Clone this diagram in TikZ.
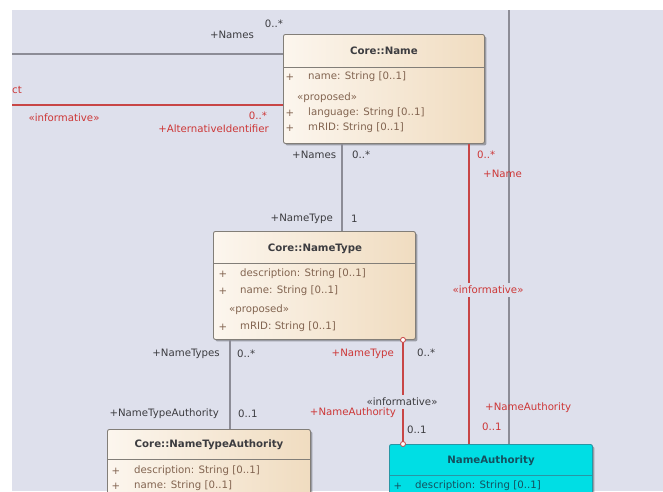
\documentclass[tikz,border=0pt]{standalone}
\usepackage{fontspec}
\setmainfont{DejaVu Sans}
\usetikzlibrary{shadows}
\definecolor{bgc}{RGB}{222,224,236}
\definecolor{lgray}{RGB}{140,140,150}
\definecolor{lred}{RGB}{200,70,70}
\definecolor{tred}{RGB}{205,55,55}
\definecolor{tgray}{RGB}{60,60,64}
\definecolor{boxL}{RGB}{252,246,238}
\definecolor{boxR}{RGB}{240,220,192}
\definecolor{boxB}{RGB}{130,126,120}
\definecolor{attrc}{RGB}{130,100,80}
\definecolor{cyanf}{RGB}{0,222,228}
\definecolor{cyanb}{RGB}{40,150,165}
\definecolor{cyant}{RGB}{20,80,95}
\begin{document}
\begin{tikzpicture}[x=1pt,y=-1pt,
  every node/.style={font=\fontsize{10.2}{12}\selectfont, inner sep=0pt},
  classbox/.style={draw=boxB, line width=0.9pt, rounded corners=2pt, left color=boxL, right color=boxR, anchor=north west,
    drop shadow={shadow xshift=2pt, shadow yshift=-2pt, opacity=0.3, fill=black}},
  cyanbox/.style={draw=cyanb, line width=0.9pt, rounded corners=2pt, fill=cyanf, anchor=north west,
    drop shadow={shadow xshift=2pt, shadow yshift=-2pt, opacity=0.3, fill=black}},
  divider/.style={draw=boxB, line width=0.8pt},
  cdivider/.style={draw=cyanb, line width=0.8pt},
  titlet/.style={font=\fontsize{10.2}{12}\selectfont\bfseries, text=tgray},
  plus/.style={text=attrc},
  attr/.style={anchor=west, text=attrc},
  cplus/.style={text=cyant},
  cattr/.style={anchor=west, text=cyant},
  grayline/.style={draw=lgray, line width=1.3pt},
  redline/.style={draw=lred, line width=1.1pt},
  lg/.style={text=tgray},
  lr/.style={text=tred},
  endcirc/.style={circle, draw=lred, fill=white, line width=0.8pt, minimum size=5pt, inner sep=0pt}
]
\useasboundingbox (0,0) rectangle (663,491);
\clip (0,0) rectangle (663,491);
\fill[white] (0,0) rectangle (663,491);
\fill[bgc] (12,10) rectangle (663,491);

% named helper coordinates
\coordinate (leftA) at (12,54);
\coordinate (leftB) at (12,105);
\coordinate (topE) at (509,10);
\coordinate (xA) at (342,0);
\coordinate (xB) at (469,0);
\coordinate (xC) at (230,0);
\coordinate (xD) at (403,0);

% boxes
\node[classbox, minimum width=201pt, minimum height=109pt] (name) at (283,34) {};
\node[classbox, minimum width=202pt, minimum height=108pt] (ntype) at (213,231) {};
\node[classbox, minimum width=203pt, minimum height=90pt] (nta) at (107,429) {};
\node[cyanbox, minimum width=203pt, minimum height=80pt] (na) at (389,444) {};

% connectors
\draw[grayline] (leftA) -- (leftA -| name.west);
\draw[redline] (leftB) -- (leftB -| name.west);
\draw[grayline] (name.south -| xA) -- (ntype.north -| xA);
\draw[redline] (name.south -| xB) -- (na.north -| xB);
\draw[grayline] (topE) -- (topE |- na.north);
\draw[grayline] (ntype.south -| xC) -- (nta.north -| xC);
\draw[redline] (ntype.south -| xD) -- (na.north -| xD);
\node[endcirc] (c1) at (ntype.south -| xD) {};
\node[endcirc] (c2) at (na.north -| xD) {};

% Core::Name
\draw[divider] (name.west |- 0,67) -- (name.east |- 0,67);
\node[titlet] (nameT) at (384,51) {Core::Name};
\node[plus] (nameP1) at (290,77) {+};
\node[attr] (nameA1) at (308,77) {name: String [0..1]};
\node[attr] (nameS) at (297,98) {«proposed»};
\node[plus] (nameP2) at (290,113) {+};
\node[attr] (nameA2) at (308,113) {language: String [0..1]};
\node[plus] (nameP3) at (290,128) {+};
\node[attr] (nameA3) at (308,128) {mRID: String [0..1]};

% Core::NameType
\draw[divider] (ntype.west |- 0,263) -- (ntype.east |- 0,263);
\node[titlet] (ntT) at (315,249) {Core::NameType};
\node[plus] (ntP1) at (223,274) {+};
\node[attr] (ntA1) at (240,274) {description: String [0..1]};
\node[plus] (ntP2) at (223,291) {+};
\node[attr] (ntA2) at (240,291) {name: String [0..1]};
\node[attr] (ntS) at (229,310) {«proposed»};
\node[plus] (ntP3) at (223,327) {+};
\node[attr] (ntA3) at (240,327) {mRID: String [0..1]};

% Core::NameTypeAuthority
\draw[divider] (nta.west |- 0,459) -- (nta.east |- 0,459);
\node[titlet] (ntaT) at (209,445) {Core::NameTypeAuthority};
\node[plus] (ntaP1) at (116,471) {+};
\node[attr] (ntaA1) at (134,471) {description: String [0..1]};
\node[plus] (ntaP2) at (116,486) {+};
\node[attr] (ntaA2) at (134,486) {name: String [0..1]};

% NameAuthority
\draw[cdivider] (na.west |- 0,475) -- (na.east |- 0,475);
\node[titlet, text=cyant] (naT) at (491,461) {NameAuthority};
\node[cplus] (naP1) at (398,486) {+};
\node[cattr] (naA1) at (415,486) {description: String [0..1]};

% labels
\node[lg] (l1) at (232,35) {+Names};
\node[lg] (l2) at (274,24) {0..*};
\node[lr, anchor=west] (l3) at (12,90) {ct};
\node[lr] (l4) at (64,118) {«informative»};
\node[lr] (l5) at (258,116) {0..*};
\node[lr, anchor=east] (l6) at (269,129) {+AlternativeIdentifier};
\node[lg, anchor=west] (l7) at (292,155) {+Names};
\node[lg, anchor=west] (l8) at (352,155) {0..*};
\node[lr, anchor=west] (l9) at (477,155) {0..*};
\node[lr, anchor=west] (l10) at (483,174) {+Name};
\node[lg, anchor=east] (l11) at (333,219) {+NameType};
\node[lg, anchor=west] (l12) at (351,219) {1};
\node[lr, fill=bgc, inner ysep=3pt] (l13) at (488,290) {«informative»};
\node[lg, anchor=east] (l14) at (220,354) {+NameTypes};
\node[lg, anchor=west] (l15) at (237,354) {0..*};
\node[lr, anchor=east] (l16) at (394,354) {+NameType};
\node[lg, anchor=west] (l17) at (417,353) {0..*};
\node[lg, fill=bgc, inner ysep=3pt] (l18) at (402,402) {«informative»};
\node[lr, fill=bgc, anchor=east] (l19) at (396,413) {+NameAuthority};
\node[lg, anchor=east] (l20) at (219,414) {+NameTypeAuthority};
\node[lg, anchor=west] (l21) at (238,414) {0..1};
\node[lg, anchor=west] (l22) at (407,430) {0..1};
\node[lr, anchor=west] (l23) at (485,408) {+NameAuthority};
\node[lr, anchor=west] (l24) at (482,427) {0..1};
\end{tikzpicture}
\end{document}
